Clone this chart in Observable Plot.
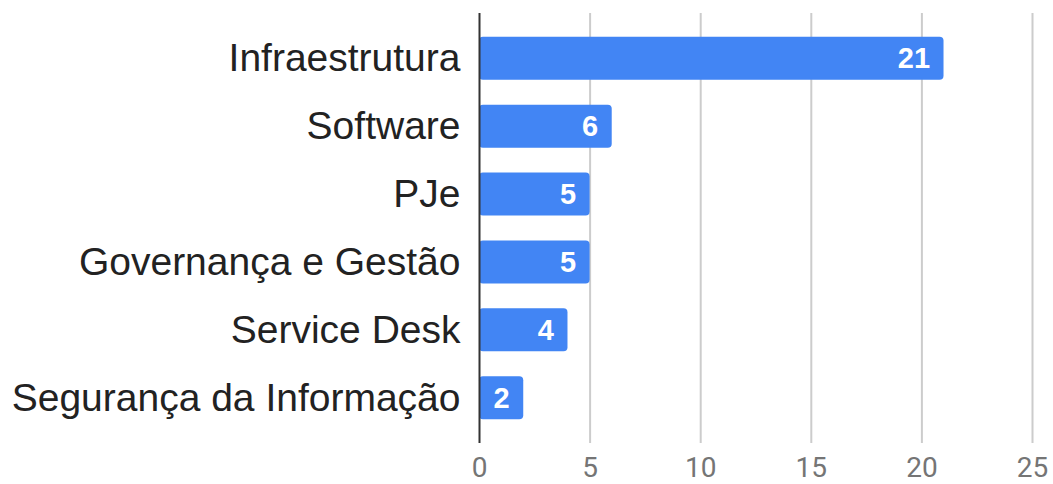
<!DOCTYPE html>
<html>
<head>
<meta charset="utf-8">
<script src="https://cdn.jsdelivr.net/npm/d3@7"></script>
<script src="https://cdn.jsdelivr.net/npm/@observablehq/plot@0.6"></script>
<style>
  html, body { margin: 0; padding: 0; background: #fff; }
  #chart svg { display: block; }
  #chart svg g[aria-label="y-axis tick label"] text { font-family: "Liberation Sans", Arial, sans-serif; }
  #chart svg g[aria-label="x-axis tick label"] text { font-family: Roboto, sans-serif; }
</style>
</head>
<body>
<div id="chart"></div>
<script>
const categories = ["Infraestrutura", "Software", "PJe", "Governança e Gestão", "Service Desk", "Segurança da Informação"];
const values = [21, 6, 5, 5, 4, 2];
const xTicks = [0, 5, 10, 15, 20, 25];
const gridTicks = [5, 10, 15, 20, 25];

const data = categories.map((c, i) => ({category: c, value: values[i]}));

const chart = Plot.plot({
  width: 1053,
  height: 484,
  marginTop: 13,
  marginBottom: 41,
  marginLeft: 479,
  marginRight: 21,
  style: {background: "#fff", overflow: "visible", fontFamily: "Liberation Sans, Arial, sans-serif"},
  x: {domain: [0, 25], ticks: xTicks, label: null},
  y: {domain: categories, label: null, paddingInner: 0.366, paddingOuter: 0.35, round: false},
  marks: [
    Plot.ruleX(gridTicks, {stroke: "#cccccc", strokeWidth: 2}),
    Plot.barX(data, {x: "value", y: "category", fill: "#4285f4", rx: 4}),
    Plot.ruleX([0], {stroke: "#333333", strokeWidth: 2}),
    Plot.text(data, {x: "value", y: "category", text: d => String(d.value), dx: -14, textAnchor: "end", fill: "#ffffff", fontWeight: "bold", fontSize: 29, fontFamily: "Liberation Sans, Arial, sans-serif"}),
    Plot.axisY({tickSize: 0, tickPadding: 19, fontSize: 39, color: "#222222", label: null}),
    Plot.axisX({ticks: xTicks, tickSize: 0, tickPadding: 14, fontSize: 28, color: "#757575", label: null})
  ]
});
document.getElementById("chart").appendChild(chart);
</script>
</body>
</html>
